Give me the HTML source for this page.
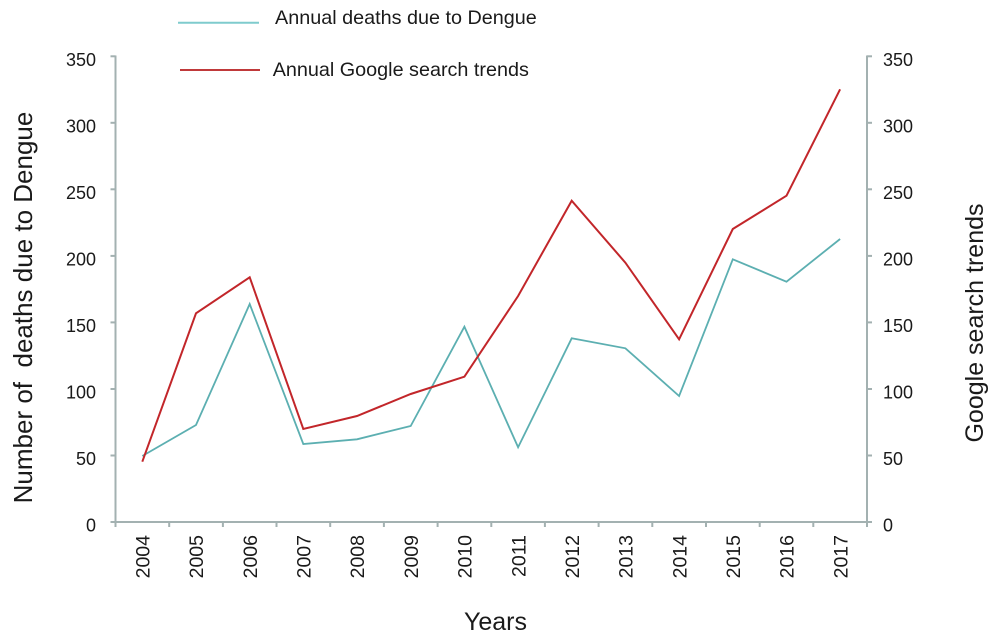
<!DOCTYPE html>
<html>
<head>
<meta charset="utf-8">
<style>
  html, body { margin: 0; padding: 0; background: #ffffff; }
  svg { display: block; }
  text { font-family: "Liberation Sans", Arial, sans-serif; fill: #1a1a1a; }
</style>
</head>
<body>
<svg width="1000" height="641" viewBox="0 0 1000 641" xmlns="http://www.w3.org/2000/svg">
  <rect width="1000" height="641" fill="#ffffff"/>

  <!-- Axes -->
  <g stroke="#a3b1b1" stroke-width="2" fill="none">
    <line x1="115.5" y1="55.5" x2="115.5" y2="523"/>
    <line x1="867" y1="55.5" x2="867" y2="523"/>
    <line x1="114.5" y1="522" x2="868" y2="522"/>
    <!-- left ticks -->
    <line x1="110.5" y1="522" x2="115.5" y2="522"/>
    <line x1="110.5" y1="455.5" x2="115.5" y2="455.5"/>
    <line x1="110.5" y1="389" x2="115.5" y2="389"/>
    <line x1="110.5" y1="322.4" x2="115.5" y2="322.4"/>
    <line x1="110.5" y1="255.9" x2="115.5" y2="255.9"/>
    <line x1="110.5" y1="189.3" x2="115.5" y2="189.3"/>
    <line x1="110.5" y1="122.8" x2="115.5" y2="122.8"/>
    <line x1="110.5" y1="56.3" x2="115.5" y2="56.3"/>
    <!-- right ticks -->
    <line x1="867" y1="522" x2="872" y2="522"/>
    <line x1="867" y1="455.5" x2="872" y2="455.5"/>
    <line x1="867" y1="389" x2="872" y2="389"/>
    <line x1="867" y1="322.4" x2="872" y2="322.4"/>
    <line x1="867" y1="255.9" x2="872" y2="255.9"/>
    <line x1="867" y1="189.3" x2="872" y2="189.3"/>
    <line x1="867" y1="122.8" x2="872" y2="122.8"/>
    <line x1="867" y1="56.3" x2="872" y2="56.3"/>
    <!-- x ticks -->
    <line x1="115.5" y1="522" x2="115.5" y2="527"/>
    <line x1="169.2" y1="522" x2="169.2" y2="527"/>
    <line x1="222.9" y1="522" x2="222.9" y2="527"/>
    <line x1="276.5" y1="522" x2="276.5" y2="527"/>
    <line x1="330.2" y1="522" x2="330.2" y2="527"/>
    <line x1="383.9" y1="522" x2="383.9" y2="527"/>
    <line x1="437.6" y1="522" x2="437.6" y2="527"/>
    <line x1="491.3" y1="522" x2="491.3" y2="527"/>
    <line x1="544.9" y1="522" x2="544.9" y2="527"/>
    <line x1="598.6" y1="522" x2="598.6" y2="527"/>
    <line x1="652.3" y1="522" x2="652.3" y2="527"/>
    <line x1="706.0" y1="522" x2="706.0" y2="527"/>
    <line x1="759.7" y1="522" x2="759.7" y2="527"/>
    <line x1="813.3" y1="522" x2="813.3" y2="527"/>
    <line x1="867" y1="522" x2="867" y2="527"/>
  </g>

  <!-- Left tick labels -->
  <g font-size="18" text-anchor="end">
    <text x="96" y="531.7">0</text>
    <text x="96" y="465.2">50</text>
    <text x="96" y="398.7">100</text>
    <text x="96" y="332.1">150</text>
    <text x="96" y="265.6">200</text>
    <text x="96" y="199">250</text>
    <text x="96" y="132.5">300</text>
    <text x="96" y="66">350</text>
  </g>

  <!-- Right tick labels -->
  <g font-size="18" text-anchor="start">
    <text x="883" y="531.7">0</text>
    <text x="883" y="465.2">50</text>
    <text x="883" y="398.7">100</text>
    <text x="883" y="332.1">150</text>
    <text x="883" y="265.6">200</text>
    <text x="883" y="199">250</text>
    <text x="883" y="132.5">300</text>
    <text x="883" y="66">350</text>
  </g>

  <!-- X labels (rotated) -->
  <g font-size="19.5" text-anchor="end">
    <text transform="translate(149.5,535) rotate(-90)">2004</text>
    <text transform="translate(203.2,535) rotate(-90)">2005</text>
    <text transform="translate(256.9,535) rotate(-90)">2006</text>
    <text transform="translate(310.5,535) rotate(-90)">2007</text>
    <text transform="translate(364.2,535) rotate(-90)">2008</text>
    <text transform="translate(417.9,535) rotate(-90)">2009</text>
    <text transform="translate(471.6,535) rotate(-90)">2010</text>
    <text transform="translate(525.3,535) rotate(-90)">2011</text>
    <text transform="translate(578.9,535) rotate(-90)">2012</text>
    <text transform="translate(632.6,535) rotate(-90)">2013</text>
    <text transform="translate(686.3,535) rotate(-90)">2014</text>
    <text transform="translate(740.0,535) rotate(-90)">2015</text>
    <text transform="translate(793.7,535) rotate(-90)">2016</text>
    <text transform="translate(847.3,535) rotate(-90)">2017</text>
  </g>

  <!-- Axis titles -->
  <text x="495.5" y="630" font-size="25" text-anchor="middle">Years</text>
  <text transform="translate(32,307.5) rotate(-90)" font-size="26" text-anchor="middle" xml:space="preserve">Number of  deaths due to Dengue</text>
  <text transform="translate(983,323) rotate(-90)" font-size="25" text-anchor="middle">Google search trends</text>

  <!-- Legend -->
  <line x1="178" y1="22.7" x2="259" y2="22.7" stroke="#7fcbcd" stroke-width="2"/>
  <text x="275" y="24" font-size="19.8">Annual deaths due to Dengue</text>
  <line x1="180" y1="70" x2="260" y2="70" stroke="#c0393a" stroke-width="2"/>
  <text x="272.7" y="76" font-size="19.8">Annual Google search trends</text>

  <!-- Series: deaths (teal) -->
  <polyline fill="none" stroke="#5cafb1" stroke-width="1.8" stroke-linejoin="miter"
    points="142.3,456 196.0,425 249.7,304 303.3,444 357.0,439.3 410.7,426 464.4,326.7 518.1,447.3 571.7,338.3 625.4,348.3 679.1,396 732.8,259.3 786.5,281.7 840.1,239"/>

  <!-- Series: Google trends (red) -->
  <polyline fill="none" stroke="#c2262a" stroke-width="2" stroke-linejoin="miter"
    points="142.3,461.7 196.0,313.3 249.7,277.3 303.3,429 357.0,416 410.7,394 464.4,376.7 518.1,296 571.7,200.7 625.4,262.7 679.1,339.3 732.8,229 786.5,195.7 840.1,89.3"/>
</svg>
</body>
</html>
